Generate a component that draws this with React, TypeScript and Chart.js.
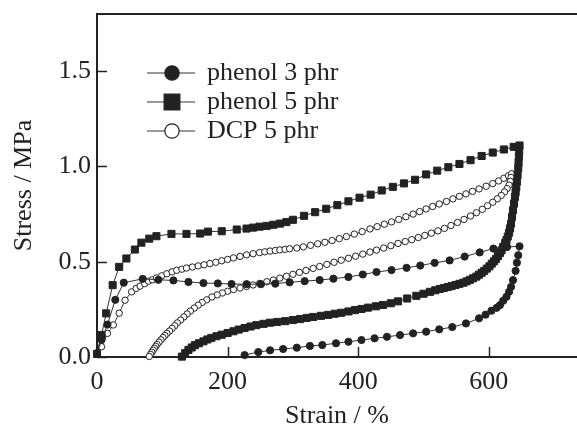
import React, { useEffect, useRef } from "react";
import { Chart, registerables } from "chart.js";

Chart.register(...registerables);

const FONT = "'Liberation Serif', 'Times New Roman', serif";
const INK = "#222";

const xTicks = [0, 200, 400, 600];
const yTicks = [0, 0.5, 1.0, 1.5];
const seriesNames = ["phenol 3 phr", "phenol 5 phr", "DCP 5 phr"];

// phenol 3 phr (filled circles)
const phenol3LoadX = [0, 7, 16, 28, 41, 70, 94, 117, 140, 163, 185, 206, 229, 251, 273, 295, 318, 341, 362, 385, 407, 428, 451, 474, 495, 517, 540, 563, 586, 607, 628, 647];
const phenol3LoadY = [0.02, 0.09, 0.17, 0.3, 0.39, 0.41, 0.405, 0.402, 0.394, 0.388, 0.386, 0.383, 0.382, 0.382, 0.385, 0.392, 0.398, 0.404, 0.411, 0.42, 0.433, 0.446, 0.456, 0.468, 0.48, 0.494, 0.507, 0.527, 0.549, 0.569, 0.577, 0.581];
const phenol3UnloadX = [645, 643, 641, 637, 634, 631, 627, 622, 617, 612, 604, 595, 585, 565, 544, 524, 504, 484, 464, 444, 425, 405, 385, 366, 345, 326, 306, 285, 265, 247, 226];
const phenol3UnloadY = [0.534, 0.495, 0.452, 0.403, 0.368, 0.342, 0.316, 0.295, 0.272, 0.258, 0.243, 0.222, 0.203, 0.176, 0.157, 0.145, 0.133, 0.124, 0.115, 0.106, 0.098, 0.089, 0.08, 0.072, 0.063, 0.058, 0.049, 0.042, 0.035, 0.026, 0.01];

// phenol 5 phr (filled squares)
const phenol5LoadX = [0, 7, 14, 24, 34, 45, 58, 68, 80, 91, 114, 137, 158, 170, 191, 214, 229, 239, 249, 260, 270, 280, 290, 300, 317, 334, 351, 368, 385, 402, 419, 436, 453, 470, 487, 504, 521, 538, 555, 572, 589, 606, 623, 638, 647];
const phenol5LoadY = [0.016, 0.115, 0.229, 0.377, 0.473, 0.517, 0.564, 0.6, 0.621, 0.634, 0.646, 0.646, 0.648, 0.658, 0.66, 0.669, 0.674, 0.679, 0.684, 0.688, 0.694, 0.7, 0.708, 0.72, 0.741, 0.76, 0.778, 0.797, 0.817, 0.836, 0.852, 0.874, 0.893, 0.911, 0.93, 0.958, 0.978, 0.996, 1.013, 1.033, 1.055, 1.073, 1.089, 1.103, 1.11];
const phenol5UnloadX = [646.5, 646, 645.5, 645, 644, 643, 642, 641, 640, 638.5, 637, 635.5, 634, 632.5, 631, 629, 627, 625, 622, 619.5, 617, 614, 611, 608, 604.5, 601, 597, 593, 589, 585, 581, 576, 571, 566, 561, 555, 549, 543, 537, 531, 525, 518, 510, 500, 489, 475, 461, 450, 438, 427, 415, 405, 395, 385, 374, 364, 354, 343, 331, 321, 311, 300, 288, 276, 265, 255, 244, 235, 226, 217, 209, 200, 191, 183, 175, 169, 163, 156, 150, 145, 140, 135, 130];
const phenol5UnloadY = [1.08, 1.05, 1.02, 0.99, 0.955, 0.92, 0.89, 0.865, 0.84, 0.805, 0.77, 0.735, 0.7, 0.675, 0.652, 0.632, 0.613, 0.598, 0.578, 0.56, 0.545, 0.53, 0.515, 0.502, 0.49, 0.476, 0.464, 0.452, 0.442, 0.432, 0.422, 0.413, 0.405, 0.397, 0.39, 0.384, 0.378, 0.372, 0.367, 0.362, 0.357, 0.35, 0.342, 0.332, 0.321, 0.307, 0.292, 0.282, 0.273, 0.266, 0.259, 0.252, 0.246, 0.239, 0.232, 0.227, 0.221, 0.216, 0.21, 0.205, 0.199, 0.194, 0.188, 0.184, 0.18, 0.174, 0.167, 0.16, 0.152, 0.144, 0.135, 0.126, 0.117, 0.109, 0.1, 0.092, 0.082, 0.072, 0.062, 0.05, 0.037, 0.02, 0.002];

// DCP 5 phr (open circles)
const dcpLoadX = [0, 7, 16, 25, 34, 43, 53, 60, 66, 73, 79, 85, 91, 99, 107, 115, 122, 130, 137, 146, 155, 164, 173, 182, 191, 200, 209, 219, 229, 239, 249, 257, 265, 273, 280, 288, 295, 306, 316, 327, 338, 349, 360, 371, 382, 394, 406, 418, 429, 440, 451, 462, 473, 484, 494, 504, 514, 524, 535, 545, 555, 565, 575, 585, 596, 606, 615, 623, 630, 635];
const dcpLoadY = [0.016, 0.054, 0.124, 0.168, 0.23, 0.298, 0.342, 0.36, 0.372, 0.385, 0.398, 0.405, 0.415, 0.426, 0.437, 0.447, 0.455, 0.461, 0.467, 0.472, 0.478, 0.484, 0.49, 0.497, 0.505, 0.512, 0.52, 0.528, 0.536, 0.542, 0.548, 0.552, 0.556, 0.559, 0.562, 0.565, 0.568, 0.572, 0.578, 0.586, 0.594, 0.602, 0.611, 0.621, 0.632, 0.645, 0.658, 0.672, 0.684, 0.697, 0.709, 0.722, 0.736, 0.75, 0.763, 0.777, 0.79, 0.803, 0.816, 0.83, 0.843, 0.856, 0.869, 0.882, 0.896, 0.91, 0.924, 0.938, 0.951, 0.962];
const dcpUnloadX = [634, 633, 631, 628, 624, 619, 613, 606, 598, 590, 581, 572, 562, 552, 542, 532, 522, 512, 502, 492, 482, 472, 461, 450, 439, 428, 418, 407, 396, 385, 374, 363, 352, 341, 331, 320, 310, 300, 290, 280, 270, 260, 249, 239, 229, 219, 209, 200, 192, 184, 176, 168, 161, 155, 149, 143, 138, 133, 128, 123, 119, 115, 111, 107, 104, 101, 98, 95, 92, 90, 88, 86, 84, 82, 80];
const dcpUnloadY = [0.942, 0.922, 0.902, 0.884, 0.866, 0.848, 0.83, 0.812, 0.794, 0.775, 0.757, 0.74, 0.722, 0.706, 0.69, 0.675, 0.662, 0.65, 0.638, 0.627, 0.616, 0.606, 0.596, 0.584, 0.572, 0.561, 0.551, 0.54, 0.529, 0.518, 0.508, 0.497, 0.486, 0.475, 0.465, 0.454, 0.444, 0.434, 0.424, 0.414, 0.404, 0.395, 0.386, 0.378, 0.37, 0.362, 0.354, 0.345, 0.336, 0.326, 0.315, 0.3, 0.286, 0.272, 0.257, 0.241, 0.226, 0.21, 0.194, 0.179, 0.164, 0.15, 0.136, 0.124, 0.113, 0.102, 0.09, 0.078, 0.066, 0.056, 0.046, 0.036, 0.025, 0.014, 0.003];

function pts(xs: number[], ys: number[]) {
  return xs.map((x, i) => ({ x, y: ys[i] }));
}

const markerStyles = [
  { pointStyle: "circle", radius: 3.6, fill: INK, legendR: 7.2 },
  { pointStyle: "rect", radius: 5, fill: INK, legendR: 10.5 },
  { pointStyle: "circle", radius: 3.2, fill: "#fff", legendR: 7.2 },
];

const decorPlugin = {
  id: "decor",
  afterDraw(chart: any) {
    const { ctx, chartArea: a, scales } = chart;
    const x = scales.x;
    const y = scales.y;
    ctx.save();
    ctx.strokeStyle = INK;
    ctx.lineWidth = 2;
    ctx.beginPath();
    ctx.moveTo(a.left - 1, a.top);
    ctx.lineTo(a.right, a.top);
    ctx.stroke();
    ctx.lineWidth = 1.5;
    xTicks.forEach((v) => {
      const px = Math.round(x.getPixelForValue(v)) + 0.5;
      ctx.beginPath();
      ctx.moveTo(px, a.bottom);
      ctx.lineTo(px, a.bottom - 10);
      ctx.stroke();
    });
    yTicks.forEach((v) => {
      const py = Math.round(y.getPixelForValue(v)) + 0.5;
      ctx.beginPath();
      ctx.moveTo(a.left, py);
      ctx.lineTo(a.left + 10, py);
      ctx.stroke();
    });
    // legend
    const lx0 = a.left + 50;
    const lx1 = a.left + 98;
    const mx = a.left + 75;
    const rows = [a.top + 59, a.top + 88, a.top + 117];
    ctx.font = `26px ${FONT}`;
    ctx.textBaseline = "middle";
    ctx.textAlign = "left";
    seriesNames.forEach((name, i) => {
      const ry = rows[i];
      const m = markerStyles[i];
      ctx.strokeStyle = "#333";
      ctx.lineWidth = 1;
      ctx.beginPath();
      ctx.moveTo(lx0, ry);
      ctx.lineTo(lx1, ry);
      ctx.stroke();
      ctx.fillStyle = m.fill;
      ctx.strokeStyle = INK;
      ctx.lineWidth = 1.2;
      ctx.beginPath();
      if (m.pointStyle === "rect") {
        const s = m.legendR * 0.75;
        ctx.rect(mx - s, ry - s, 2 * s, 2 * s);
      } else {
        ctx.arc(mx, ry, m.legendR, 0, Math.PI * 2);
      }
      ctx.fill();
      ctx.stroke();
      ctx.fillStyle = INK;
      ctx.fillText(name, a.left + 110, ry);
    });
    ctx.restore();
  },
};

export default function App() {
  const ref = useRef<HTMLCanvasElement>(null);

  useEffect(() => {
    const series = [
      pts(phenol3LoadX, phenol3LoadY).concat(pts(phenol3UnloadX, phenol3UnloadY)),
      pts(phenol5LoadX, phenol5LoadY).concat(pts(phenol5UnloadX, phenol5UnloadY)),
      pts(dcpLoadX, dcpLoadY).concat(pts(dcpUnloadX, dcpUnloadY)),
    ];
    const datasets = series.map((data, i) => ({
      label: seriesNames[i],
      data,
      showLine: true,
      borderColor: "#333",
      borderWidth: 1,
      pointStyle: markerStyles[i].pointStyle,
      pointRadius: markerStyles[i].radius,
      pointBackgroundColor: markerStyles[i].fill,
      pointBorderColor: INK,
      pointBorderWidth: 1,
      clip: false as any,
    }));
    const chart = new Chart(ref.current as HTMLCanvasElement, {
      type: "scatter",
      data: { datasets: datasets as any },
      options: {
        responsive: false,
        maintainAspectRatio: false,
        animation: false,
        layout: { autoPadding: false, padding: { top: 14, right: 0, left: 0, bottom: 0 } },
        plugins: { legend: { display: false }, tooltip: { enabled: false } },
        scales: {
          x: {
            type: "linear",
            min: 0,
            max: 735,
            afterFit: (s: any) => {
              s.height = 70;
              s.paddingLeft = 0;
              s.paddingRight = 0;
              s.paddingTop = 0;
              s.paddingBottom = 0;
            },
            ticks: {
              stepSize: 200,
              includeBounds: false,
              padding: 10,
              color: INK,
              font: { family: FONT, size: 26 },
              callback: (v: any) => String(v),
            },
            grid: { display: true, drawOnChartArea: false, drawTicks: false },
            border: { display: true, color: INK, width: 2 },
            title: {
              display: true,
              text: "Strain / %",
              color: INK,
              font: { family: FONT, size: 26, lineHeight: 0.8 },
              padding: { top: 0, bottom: 0 },
            },
          },
          y: {
            type: "linear",
            min: 0,
            max: 1.8,
            afterFit: (s: any) => {
              s.width = 97;
              s.paddingLeft = 0;
              s.paddingRight = 0;
              s.paddingTop = 0;
              s.paddingBottom = 0;
            },
            ticks: {
              stepSize: 0.5,
              includeBounds: false,
              padding: 6,
              color: INK,
              font: { family: FONT, size: 26 },
              callback: (v: any) => Number(v).toFixed(1),
            },
            grid: { display: true, drawOnChartArea: false, drawTicks: false },
            border: { display: true, color: INK, width: 2 },
            title: {
              display: true,
              text: "Stress / MPa",
              color: INK,
              font: { family: FONT, size: 26, lineHeight: 0.8 },
              padding: { top: 14, bottom: 0 },
            },
          },
        },
      },
      plugins: [decorPlugin],
    });
    return () => chart.destroy();
  }, []);

  return (
    <div style={{ position: "fixed", left: 0, top: 0, width: 577, height: 427, background: "#fff" }}>
      <canvas ref={ref} width={577} height={427} style={{ display: "block", width: 577, height: 427 }} />
    </div>
  );
}
